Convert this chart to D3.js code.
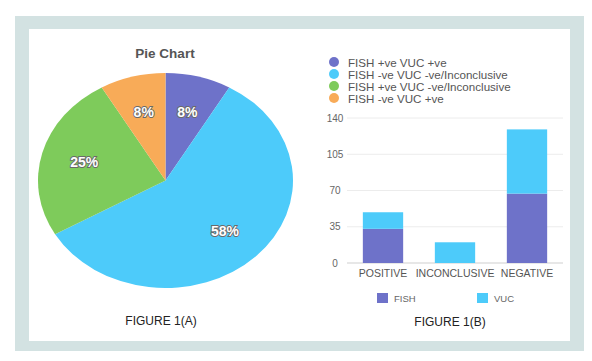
<!DOCTYPE html>
<html><head><meta charset="utf-8">
<script src="https://cdn.jsdelivr.net/npm/d3@7"></script>
<style>body{margin:0;background:#fff;}svg{display:block;font-family:"Liberation Sans",Arial,sans-serif;}</style>
</head><body>
<svg id="c" width="592" height="361"></svg>
<script>
// Pie data (Figure 1A)
const pieLabels = ["FISH +ve VUC +ve","FISH -ve VUC -ve/Inconclusive","FISH +ve VUC -ve/Inconclusive","FISH -ve VUC +ve"];
const pieValues = [1, 7, 3, 1];
const pieColors = ["#6e72c9","#4dcbfa","#7ecb5b","#f8ab58"];
// Bar data (Figure 1B)
const barCategories = ["POSITIVE","INCONCLUSIVE","NEGATIVE"];
const fishValues = [33, 0, 67];
const vucValues = [16, 20, 62];
const barSeries = ["FISH","VUC"];
const barColors = ["#6e72c9","#4dcbfa"];
const yTicks = [0, 35, 70, 105, 140];

const svg = d3.select("#c");
svg.append("rect").attr("x",15).attr("y",16).attr("width",569).attr("height",335).attr("fill","#d3e2e2");
svg.append("rect").attr("x",29).attr("y",29).attr("width",541).attr("height",312).attr("fill","#ffffff");

// ---- Pie ----
const cx = 165.5, cy = 180.5, rx = 127.5, ry = 107.5;
const total = d3.sum(pieValues);
const pie = d3.pie().sort(null)(pieValues);
const gp = svg.append("g").attr("transform",`translate(${cx},${cy}) scale(${rx/ry},1)`);
const arc = d3.arc().innerRadius(0).outerRadius(ry);
gp.selectAll("path").data(pie).join("path").attr("d",arc).attr("fill",(d,i)=>pieColors[i]);
const labArc = d3.arc().innerRadius(ry*0.66).outerRadius(ry*0.66);
svg.append("g").attr("transform",`translate(${cx},${cy})`).selectAll("text").data(pie).join("text")
  .attr("x",d=>labArc.centroid(d)[0]*rx/ry).attr("y",d=>labArc.centroid(d)[1])
  .attr("text-anchor","middle").attr("dominant-baseline","central")
  .attr("font-size",14).attr("font-weight","bold").attr("fill","#ffffff")
  .attr("stroke","#6a6a6a").attr("stroke-width",1.8).attr("paint-order","stroke")
  .text(d=>Math.round(d.data/total*100)+"%");
svg.append("text").attr("x",165).attr("y",53).attr("text-anchor","middle").attr("dominant-baseline","central")
  .attr("font-size",13.5).attr("font-weight","bold").attr("fill","#555").text("Pie Chart");
svg.append("text").attr("x",161).attr("y",321).attr("text-anchor","middle").attr("dominant-baseline","central")
  .attr("font-size",12).attr("fill","#222").text("FIGURE 1(A)");

// ---- Legend for pie ----
const lg = svg.append("g");
pieLabels.forEach((t,i)=>{
  const y = 62 + i*12;
  lg.append("circle").attr("cx",334).attr("cy",y).attr("r",5).attr("fill",pieColors[i]);
  lg.append("text").attr("x",348).attr("y",y).attr("dominant-baseline","central")
    .attr("font-size",11.6).attr("fill","#555").text(t);
});

// ---- Bar chart ----
const x = d3.scaleBand().domain(barCategories).range([347,563]).paddingInner(0.44).paddingOuter(0.22);
const y = d3.scaleLinear().domain([0,140]).range([263,118]);
const gg = svg.append("g");
yTicks.forEach(t=>{
  gg.append("line").attr("x1",347).attr("x2",563).attr("y1",y(t)).attr("y2",y(t))
    .attr("stroke",t===0?"#cfcfcf":"#ececec").attr("stroke-width",1);
});
const yAxis = d3.axisLeft(y).tickValues(yTicks).tickSize(0).tickPadding(0);
const ya = svg.append("g").attr("transform","translate(335,0)").call(yAxis);
ya.select(".domain").remove();
ya.selectAll("text").attr("text-anchor","middle").attr("font-size",10).attr("fill","#666").attr("font-family","Liberation Sans, Arial, sans-serif");

const stackData = barCategories.map((c,i)=>({cat:c, FISH:fishValues[i], VUC:vucValues[i]}));
const stacked = d3.stack().keys(barSeries)(stackData);
svg.append("g").selectAll("g").data(stacked).join("g").attr("fill",(d,i)=>barColors[i])
  .selectAll("rect").data(d=>d).join("rect")
  .attr("x",d=>x(d.data.cat)).attr("width",x.bandwidth())
  .attr("y",d=>y(d[1])).attr("height",d=>y(d[0])-y(d[1]));

const xAxis = d3.axisBottom(x).tickSize(0).tickPadding(0);
const xa = svg.append("g").attr("transform","translate(0,273)").call(xAxis);
xa.select(".domain").remove();
xa.selectAll("text").attr("dy","0.35em").attr("font-size",10.5).attr("fill","#555").attr("font-family","Liberation Sans, Arial, sans-serif");

// bottom legend
const bl = [{x:377},{x:477}];
barSeries.forEach((s,i)=>{
  svg.append("rect").attr("x",bl[i].x).attr("y",293).attr("width",11).attr("height",10).attr("fill",barColors[i]);
  svg.append("text").attr("x",bl[i].x+17).attr("y",298.5).attr("dominant-baseline","central")
    .attr("font-size",9.5).attr("fill","#666").text(s);
});
svg.append("text").attr("x",450).attr("y",322).attr("text-anchor","middle").attr("dominant-baseline","central")
  .attr("font-size",12).attr("fill","#222").text("FIGURE 1(B)");
</script>
</body></html>
